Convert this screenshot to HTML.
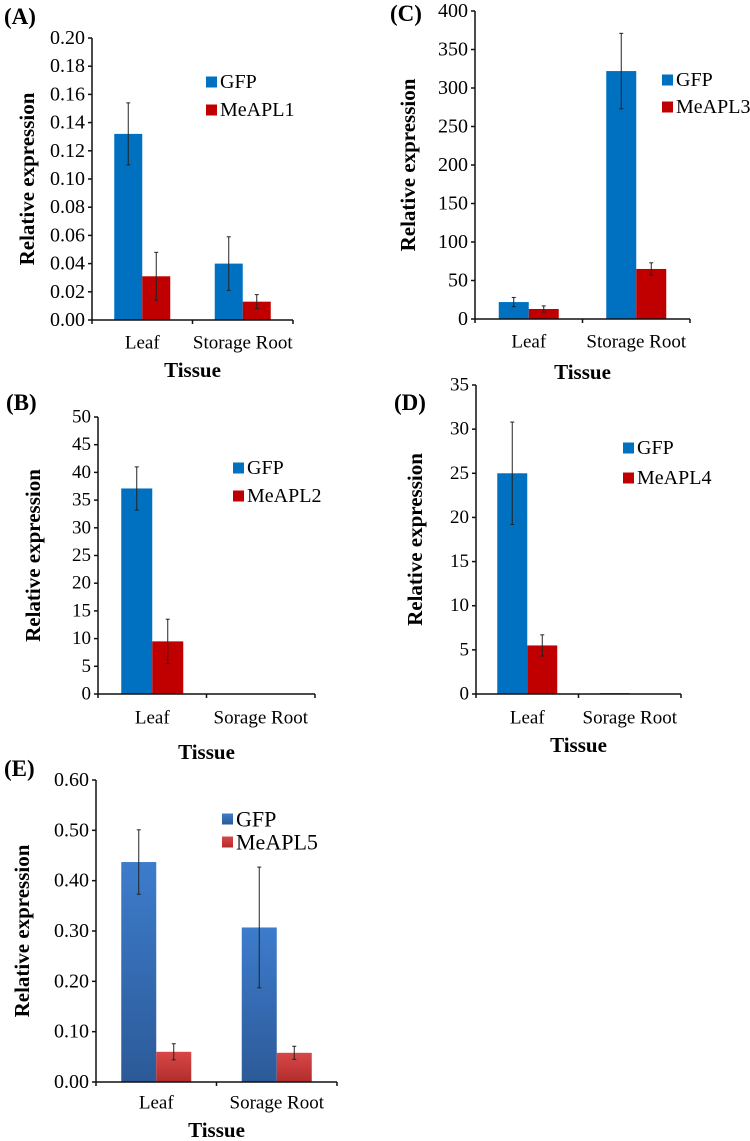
<!DOCTYPE html>
<html><head><meta charset="utf-8"><style>
html,body{margin:0;padding:0;background:#fff;}
svg{display:block;font-family:"Liberation Serif",serif;}
</style></head>
<body>
<svg id="fig" width="750" height="1141" viewBox="0 0 750 1141" xmlns="http://www.w3.org/2000/svg">
<defs>
<linearGradient id="gBlue" x1="0" y1="0" x2="0" y2="1"><stop offset="0" stop-color="#3d7ccc"/><stop offset="1" stop-color="#2c5a98"/></linearGradient>
<linearGradient id="gRed" x1="0" y1="0" x2="0" y2="1"><stop offset="0" stop-color="#d84848"/><stop offset="1" stop-color="#b22c2c"/></linearGradient>
</defs>
</svg>
<script>
// Panel A
const catsA = ["Leaf", "Storage Root"];
const gfpA = [0.132, 0.040];
const gfpErrA = [0.022, 0.019];
const aplA = [0.031, 0.013];
const aplErrA = [0.017, 0.005];
const ticksA = ["0.00","0.02","0.04","0.06","0.08","0.10","0.12","0.14","0.16","0.18","0.20"];
// Panel B
const catsB = ["Leaf", "Sorage Root"];
const gfpB = [37.1, 0];
const gfpErrB = [3.9, 0];
const aplB = [9.5, 0];
const aplErrB = [4.0, 0];
const ticksB = ["0","5","10","15","20","25","30","35","40","45","50"];
// Panel C
const catsC = ["Leaf", "Storage Root"];
const gfpC = [22, 322];
const gfpErrC = [6, 49];
const aplC = [13, 65];
const aplErrC = [4, 8];
const ticksC = ["0","50","100","150","200","250","300","350","400"];
// Panel D
const catsD = ["Leaf", "Sorage Root"];
const gfpD = [25.0, 0.1];
const gfpErrD = [5.8, 0];
const aplD = [5.5, 0.05];
const aplErrD = [1.2, 0];
const ticksD = ["0","5","10","15","20","25","30","35"];
// Panel E
const catsE = ["Leaf", "Sorage Root"];
const gfpE = [0.437, 0.307];
const gfpErrE = [0.064, 0.120];
const aplE = [0.060, 0.058];
const aplErrE = [0.016, 0.013];
const ticksE = ["0.00","0.10","0.20","0.30","0.40","0.50","0.60"];

const NS = "http://www.w3.org/2000/svg";
const svg = document.getElementById("fig");
function mk(tag, attrs, parent, text) {
  const e = document.createElementNS(NS, tag);
  for (const k in attrs) e.setAttribute(k, attrs[k]);
  if (text !== undefined) e.textContent = text;
  (parent || svg).appendChild(e);
  return e;
}

function panel(p) {
  const g = mk("g", {});
  
  
  const max = parseFloat(p.ticks[p.ticks.length - 1]);
  const y = v => p.y0 - (v / max) * (p.y0 - p.yTop);
  const cw = (p.xEnd - p.x0) / p.cats.length;
  const lt = mk("text", {x: p.lx, y: p.ly, "font-size": 23, "font-weight": "bold"}, g, "(" + p.id + ")");
  
  
  p.cats.forEach((c, i) => {
    const cx = p.x0 + cw * (i + 0.5);
    const series = [[p.gfp, p.gfpErr, p.blue, "gfp"], [p.apl, p.aplErr, p.red, "apl"]];
    series.forEach((s, j) => {
      const v = s[0][i], e = s[1][i];
      const bx = j === 0 ? cx - p.bw : cx;
      const r = mk("rect", {x: bx, y: y(v), width: p.bw, height: Math.max(0, p.y0 - y(v)), fill: s[2]}, g);
      
      
      if (e > 0) {
        const ex = bx + p.bw / 2;
        const eg = mk("g", {stroke: "#222", "stroke-width": 1}, g);
        
        
        mk("line", {x1: ex, x2: ex, y1: y(v + e), y2: y(v - e)}, eg);
        mk("line", {x1: ex - 2, x2: ex + 2, y1: y(v + e), y2: y(v + e)}, eg);
        mk("line", {x1: ex - 2, x2: ex + 2, y1: y(v - e), y2: y(v - e)}, eg);
      }
    });
    const cl = mk("text", {x: cx, y: p.catY, "font-size": p.cfs, "text-anchor": "middle", "dominant-baseline": "central"}, g, c);
    
    
  });
  const ax = mk("g", {stroke: "#111", "stroke-width": 1.5}, g);
  
  
  mk("line", {x1: p.x0, x2: p.x0, y1: p.yTop, y2: p.y0}, ax);
  mk("line", {x1: p.x0, x2: p.xEnd, y1: p.y0, y2: p.y0}, ax);
  for (let i = 0; i <= p.cats.length; i++) {
    const tx = p.x0 + cw * i;
    mk("line", {x1: tx, x2: tx, y1: p.y0, y2: p.y0 + 4}, ax);
  }
  p.ticks.forEach(t => {
    const ty = y(parseFloat(t));
    mk("line", {x1: p.x0 - 4, x2: p.x0, y1: ty, y2: ty}, ax);
    const tl = mk("text", {x: p.x0 - 7, y: ty, "font-size": p.fs, "text-anchor": "end", "dominant-baseline": "central"}, g, t);
    
    
  });
  const yt = mk("text", {x: p.ytx, y: (p.yTop + p.y0) / 2, "font-size": 21, "font-weight": "bold", "text-anchor": "middle", "dominant-baseline": "central", transform: `rotate(-90 ${p.ytx} ${(p.yTop + p.y0) / 2})`}, g, "Relative expression");
  
  
  const xt = mk("text", {x: (p.x0 + p.xEnd) / 2, y: p.tisY, "font-size": 21, "font-weight": "bold", "text-anchor": "middle", "dominant-baseline": "central"}, g, "Tissue");
  
  
  [[p.blue, "GFP", p.legY1], [p.red, p.gene, p.legY2]].forEach((l, k) => {
    const sw = mk("rect", {x: p.legX, y: l[2] - 5.5, width: 11, height: 11, fill: l[0]}, g);
    
    
    const lx = mk("text", {x: p.legX + 14, y: l[2], "font-size": p.lfs, "dominant-baseline": "central"}, g, l[1]);
    
    
  });
}

panel({id:"A", cats:catsA, gfp:gfpA, gfpErr:gfpErrA, apl:aplA, aplErr:aplErrA, ticks:ticksA, gene:"MeAPL1",
  x0:92, xEnd:293, yTop:38, y0:320, bw:28, blue:"#0070c0", red:"#c00000",
  lx:4, ly:24, catY:343, tisY:370, ytx:27, legX:206, legY1:82, legY2:110, fs:20, cfs:19, lfs:20});
panel({id:"C", cats:catsC, gfp:gfpC, gfpErr:gfpErrC, apl:aplC, aplErr:aplErrC, ticks:ticksC, gene:"MeAPL3",
  x0:475, xEnd:690, yTop:11, y0:319, bw:30, blue:"#0070c0", red:"#c00000",
  lx:390, ly:21, catY:342, tisY:372, ytx:408, legX:662, legY1:80, legY2:107, fs:20, cfs:19, lfs:20});
panel({id:"B", cats:catsB, gfp:gfpB, gfpErr:gfpErrB, apl:aplB, aplErr:aplErrB, ticks:ticksB, gene:"MeAPL2",
  x0:98, xEnd:315, yTop:417, y0:694, bw:31, blue:"#0070c0", red:"#c00000",
  lx:6, ly:410, catY:718, tisY:752, ytx:33, legX:233, legY1:468, legY2:496, fs:19, cfs:19, lfs:20});
panel({id:"D", cats:catsD, gfp:gfpD, gfpErr:gfpErrD, apl:aplD, aplErr:aplErrD, ticks:ticksD, gene:"MeAPL4",
  x0:476, xEnd:681, yTop:385, y0:694, bw:30, blue:"#0070c0", red:"#c00000",
  lx:394, ly:410, catY:718, tisY:745, ytx:415, legX:623, legY1:448, legY2:478, fs:19, cfs:19, lfs:20});
panel({id:"E", cats:catsE, gfp:gfpE, gfpErr:gfpErrE, apl:aplE, aplErr:aplErrE, ticks:ticksE, gene:"MeAPL5",
  x0:96, xEnd:337, yTop:780, y0:1082, bw:35, blue:"url(#gBlue)", red:"url(#gRed)",
  lx:4, ly:776, catY:1103, tisY:1130, ytx:22, legX:222, legY1:819, legY2:842, fs:20, cfs:19, lfs:22});
</script>
</body></html>
